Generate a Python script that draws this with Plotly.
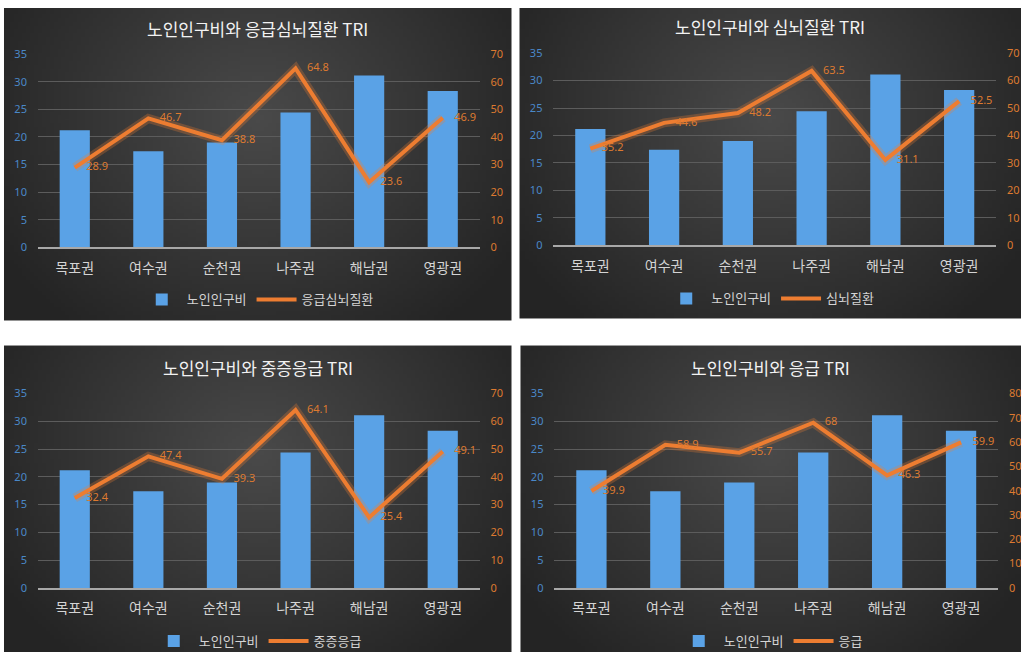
import base64, struct, zlib
import numpy as np
import plotly.graph_objects as go

W, H = 1022, 659

categories = ["목포권", "여수권", "순천권", "나주권", "해남권", "영광권"]
elderly_ratio = [21.2, 17.4, 19.0, 24.4, 31.1, 28.3]

titles = ["노인인구비와 응급심뇌질환 TRI", "노인인구비와 심뇌질환 TRI",
          "노인인구비와 중증응급 TRI", "노인인구비와 응급 TRI"]
line_names = ["응급심뇌질환", "심뇌질환", "중증응급", "응급"]
tri_emerg_cardio = [28.9, 46.7, 38.8, 64.8, 23.6, 46.9]
tri_cardio = [35.2, 44.6, 48.2, 63.5, 31.1, 52.5]
tri_severe = [32.4, 47.4, 39.3, 64.1, 25.4, 49.1]
tri_emerg = [39.9, 58.9, 55.7, 68, 46.3, 59.9]
line_series = [tri_emerg_cardio, tri_cardio, tri_severe, tri_emerg]
right_max = [70, 70, 70, 80]

# panel boxes (screen pixels): bg box and plot box
panels = [
    dict(bg=(4, 5, 512, 320), plot=(38, 54, 480, 247), title_y=28, leg_y=299),
    dict(bg=(520, 4, 1022, 318), plot=(554, 53, 997, 245), title_y=26, leg_y=298),
    dict(bg=(4, 345, 512, 659), plot=(38, 393, 480, 587), title_y=367, leg_y=640),
    dict(bg=(521, 345, 1022, 659), plot=(555, 393, 999, 587), title_y=367, leg_y=640),
]


def py(y):
    """screen-pixel y -> paper fraction (compensates the page's vertical offset)"""
    yf = (y - 8.0) / (643.0 / 659.0)
    yf = min(max(yf, 0.0), H)
    return 1 - yf / H


def make_png(w, h):
    yy, xx = np.mgrid[0:h, 0:w]
    cx, cy = (w - 1) / 2, (h - 1) * 0.35
    d = np.sqrt(((xx - cx) / (w / 2)) ** 2 + ((yy - cy) / (h / 1.4)) ** 2)
    d = np.clip(d, 0, 1.2) / 1.2
    c0 = np.array([74, 74, 74])
    c1 = np.array([36, 36, 36])
    img = (c0[None, None, :] * (1 - d[..., None]) + c1[None, None, :] * d[..., None]).astype(np.uint8)
    raw = b"".join(b"\x00" + img[r].tobytes() for r in range(h))

    def chunk(t, data):
        c = struct.pack(">I", len(data)) + t + data
        return c + struct.pack(">I", zlib.crc32(t + data) & 0xffffffff)

    png = b"\x89PNG\r\n\x1a\n" + chunk(b"IHDR", struct.pack(">IIBBBBB", w, h, 8, 2, 0, 0, 0))
    png += chunk(b"IDAT", zlib.compress(raw, 9)) + chunk(b"IEND", b"")
    return "data:image/png;base64," + base64.b64encode(png).decode()


bg_src = make_png(128, 80)

fig = go.Figure()
layout = dict(width=W, height=H, margin=dict(l=0, r=0, t=0, b=0),
              paper_bgcolor="white", plot_bgcolor="rgba(0,0,0,0)",
              font=dict(family="Noto Sans CJK KR, Noto Sans, sans-serif"),
              images=[], annotations=[], bargap=0.59)

FONT = "Noto Sans CJK KR"
for i, p in enumerate(panels):
    n = i + 1
    xa = "x" if n == 1 else f"x{n}"
    ya_l = f"y{2 * n - 1}" if n > 1 else "y"
    ya_r = f"y{2 * n}"
    leg = "legend" if n == 1 else f"legend{n}"
    x0, y0, x1, y1 = p["bg"]
    layout["images"].append(dict(source=bg_src, xref="paper", yref="paper",
                                 x=x0 / W, y=py(y0), sizex=(x1 - x0) / W, sizey=py(y0) - py(y1),
                                 xanchor="left", yanchor="top", sizing="stretch", layer="below"))
    px0, py0, px1, py1 = p["plot"]
    xdom = [px0 / W, px1 / W]
    ydom = [py(py1), py(py0)]
    xkey = "xaxis" if n == 1 else f"xaxis{n}"
    ylkey = "yaxis" if n == 1 else f"yaxis{2 * n - 1}"
    yrkey = f"yaxis{2 * n}"
    layout[xkey] = dict(domain=xdom, anchor=ya_l, showgrid=False, showline=True,
                        linecolor="#a8a8a8", linewidth=1.5, ticks="",
                        tickfont=dict(family=FONT, size=14, color="#d4d4d4"),
                        ticklabelstandoff=7, fixedrange=True)
    layout[ylkey] = dict(domain=ydom, anchor=xa, range=[0, 35], dtick=5,
                         showgrid=True, gridcolor="#5c5c5c", gridwidth=1,
                         zeroline=False, showline=False,
                         tickfont=dict(family="Noto Sans", size=11, color="#4a88c8"),
                         ticklabelstandoff=10)
    layout[yrkey] = dict(domain=ydom, anchor=xa, overlaying=ya_l, side="right",
                         range=[0, right_max[i]], dtick=10, showgrid=False,
                         zeroline=False, showline=False,
                         tickfont=dict(family="Noto Sans", size=11, color="#dd7a30"),
                         ticklabelstandoff=10)
    layout[leg] = dict(orientation="h", x=(x0 + x1) / 2 / W, y=py(p["leg_y"]),
                       xanchor="center", yanchor="middle", bgcolor="rgba(0,0,0,0)",
                       font=dict(family=FONT, size=13, color="#d4d4d4"),
                       itemwidth=40, tracegroupgap=0)
    layout["annotations"].append(dict(text=titles[i], xref="paper", yref="paper",
                                      x=(x0 + x1) / 2 / W, y=py(p["title_y"]),
                                      xanchor="center", yanchor="middle", showarrow=False,
                                      font=dict(family=FONT, size=17, color="#f2f2f2")))

    fig.add_trace(go.Bar(x=categories, y=elderly_ratio, name="노인인구비",
                         marker=dict(color="#5aa2e6", line=dict(width=0)),
                         xaxis=xa, yaxis=ya_l, legend=leg))
    fig.add_trace(go.Scatter(x=categories, y=line_series[i], mode="lines",
                             line=dict(color="rgba(237,125,49,0.28)", width=9),
                             showlegend=False, hoverinfo="skip", xaxis=xa, yaxis=ya_r))
    fig.add_trace(go.Scatter(x=categories, y=line_series[i], name=line_names[i],
                             mode="lines+text", text=["    " + str(v) for v in line_series[i]],
                             textposition="middle right",
                             textfont=dict(family="Noto Sans", size=11, color="#dd7a30"),
                             line=dict(color="#ed7d31", width=4),
                             xaxis=xa, yaxis=ya_r, legend=leg))

fig.update_layout(**layout)
post = (
    "document.body.style.margin='0';document.body.style.padding='0';"
    "document.body.style.overflow='hidden';"
)
fig.write_html("out.html", config={"displayModeBar": False}, post_script=post)
